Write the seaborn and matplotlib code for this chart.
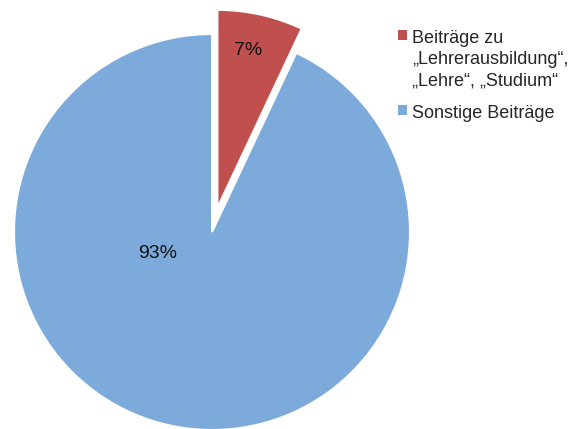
import matplotlib
matplotlib.use('Agg')
import matplotlib.pyplot as plt
import seaborn as sns
from matplotlib.patches import Patch

# Data
labels = ['Beiträge zu\n„Lehrerausbildung“,\n„Lehre“, „Studium“', 'Sonstige Beiträge']
shares = [7, 93]
colors = ['#C0504D', '#7CAADB']
explode = [0.125, 0]

sns.set_theme(style='white')
plt.rcParams['font.family'] = ['Liberation Sans', 'DejaVu Sans']

fig = plt.figure(figsize=(5.68, 4.29), dpi=100)
ax = fig.add_axes([0, 0, 1, 1])

wedges, texts, autotexts = ax.pie(shares, colors=colors, explode=explode,
                                  startangle=90, counterclock=False,
                                  autopct='%1.0f%%',
                                  wedgeprops=dict(edgecolor='white', linewidth=1.5),
                                  textprops=dict(fontsize=14, color='#111111'))

# place percentage labels like in the original
autotexts[0].set_position((0.18, 0.915))
autotexts[1].set_position((-0.276, -0.11))

# axis scaled so one data unit = 198 px, pie centre at (212, 232) px
r = 198.0
cx, cy = 212.0, 429.0 - 232.0
ax.set_aspect('auto')
ax.set_xlim(-cx / r, (568 - cx) / r)
ax.set_ylim(-cy / r, (429 - cy) / r)
ax.axis('off')

handles = [Patch(facecolor=c, edgecolor='none') for c in colors]
leg = fig.legend(handles, labels, loc='upper left',
                 bbox_to_anchor=(398 / 568, 1 - 30 / 429),
                 frameon=False, fontsize=13, handlelength=0.5, handleheight=0.5,
                 handletextpad=0.3, labelspacing=0.85, borderpad=0, borderaxespad=0)
for t in leg.get_texts():
    t.set_linespacing(1.34)
# align markers with the first line of each label
for col in leg._legend_handle_box.get_children():
    for row in col.get_children():
        row.align = 'top'

fig.savefig('out.png', dpi=100)
